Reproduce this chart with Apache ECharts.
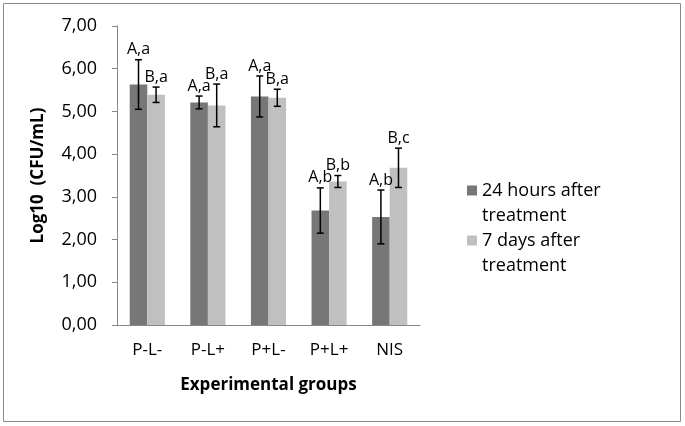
<!DOCTYPE html>
<html><head><meta charset="utf-8">
<script src="https://cdn.jsdelivr.net/npm/echarts@6/dist/echarts.min.js"></script>
<style>html,body{margin:0;padding:0;background:#fff}#c{width:685px;height:426px}</style>
</head><body><div id="c"></div>
<script>
const categories = ['P-L-', 'P-L+', 'P+L-', 'P+L+', 'NIS'];
const seriesNames = ['24 hours after\ntreatment', '7 days after\ntreatment'];
const values24h = [5.63, 5.21, 5.35, 2.68, 2.53];
const values7d = [5.39, 5.14, 5.32, 3.36, 3.68];
const err24h = [0.58, 0.15, 0.48, 0.53, 0.63];
const err7d = [0.18, 0.50, 0.20, 0.14, 0.46];
const labels24h = ['A,a', 'A,a', 'A,a', 'A,b', 'A,b'];
const labels7d = ['B,a', 'B,a', 'B,a', 'B,b', 'B,c'];
const yMin = 0, yMax = 7, yStep = 1;

const FONT = 'Open Sans';
const BAR_RATIO = 0.29;
const colors = ['#777777', '#c0c0c0'];

function errRender(sign, errs, labels) {
  return function (params, api) {
    const i = params.dataIndex;
    const x = api.value(0), v = api.value(1), e = errs[i];
    const band = api.size([1, 0])[0];
    const cx = api.coord([x, v])[0] + sign * band * BAR_RATIO / 2;
    const yt = api.coord([x, v + e])[1], yb = api.coord([x, v - e])[1];
    const cap = 3.5;
    const st = { stroke: '#000', lineWidth: 1.5 };
    return {
      type: 'group', children: [
        { type: 'line', shape: { x1: cx, y1: yt, x2: cx, y2: yb }, style: st },
        { type: 'line', shape: { x1: cx - cap, y1: yt, x2: cx + cap, y2: yt }, style: st },
        { type: 'line', shape: { x1: cx - cap, y1: yb, x2: cx + cap, y2: yb }, style: st },
        { type: 'text', x: cx, y: yt - 2, style: { text: labels[i], textAlign: 'center', textVerticalAlign: 'bottom', fontSize: 16, fontFamily: FONT, fill: '#000' } }
      ]
    };
  };
}

const chart = echarts.init(document.getElementById('c'), null, { renderer: 'canvas' });
const legendText = { fontSize: 18, fontFamily: FONT, color: '#000', lineHeight: 25 };
const legendCommon = { left: 467, padding: 0, itemWidth: 10, itemHeight: 10, itemGap: 0, icon: 'rect', textStyle: legendText, selectedMode: false, formatter: n => ' \n' + n };
chart.setOption({
  animation: false,
  textStyle: { fontFamily: FONT },
  graphic: [{ type: 'rect', shape: { x: 3.5, y: 3.5, width: 677, height: 418 }, style: { fill: 'none', stroke: '#8a8a8a', lineWidth: 1 } }],
  grid: { left: 117, right: 265, top: 26, bottom: 101 },
  legend: [
    Object.assign({ data: [seriesNames[0]], top: 153 }, legendCommon),
    Object.assign({ data: [seriesNames[1]], top: 203 }, legendCommon)
  ],
  xAxis: {
    type: 'category', data: categories,
    name: 'Experimental groups', nameLocation: 'middle', nameGap: 52,
    nameTextStyle: { fontSize: 17, fontWeight: 'bold', color: '#000', fontFamily: FONT },
    axisLine: { lineStyle: { color: '#868686', width: 1 } },
    axisTick: { length: 6, lineStyle: { color: '#868686' } },
    axisLabel: { fontSize: 17, color: '#000', margin: 17, fontFamily: FONT }
  },
  yAxis: {
    type: 'value', min: yMin, max: yMax, interval: yStep,
    name: 'Log10  (CFU/mL)', nameLocation: 'middle', nameGap: 70, nameRotate: 90,
    nameTextStyle: { fontSize: 17, fontWeight: 'bold', color: '#000', fontFamily: FONT },
    axisLine: { show: true, lineStyle: { color: '#868686', width: 1 } },
    axisTick: { show: true, length: 5, lineStyle: { color: '#868686' } },
    splitLine: { show: false },
    axisLabel: { fontSize: 18, color: '#000', margin: 20, fontFamily: FONT, formatter: v => v.toFixed(2).replace('.', ',') }
  },
  series: [
    { name: seriesNames[0], type: 'bar', data: values24h, barWidth: (BAR_RATIO * 100) + '%', barGap: '0%', itemStyle: { color: colors[0] } },
    { name: seriesNames[1], type: 'bar', data: values7d, barWidth: (BAR_RATIO * 100) + '%', barGap: '0%', itemStyle: { color: colors[1] } },
    { type: 'custom', renderItem: errRender(-1, err24h, labels24h), data: values24h.map((v, i) => [i, v]), z: 10, silent: true },
    { type: 'custom', renderItem: errRender(1, err7d, labels7d), data: values7d.map((v, i) => [i, v]), z: 10, silent: true }
  ]
});
</script></body></html>
